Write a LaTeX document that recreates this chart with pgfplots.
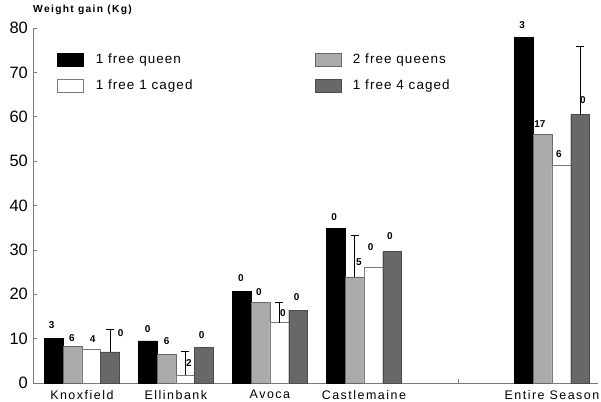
\documentclass[border=0pt]{standalone}
\usepackage{fontspec}
\setmainfont{Liberation Sans}
\newfontfamily\catfont[LetterSpace=12]{Liberation Sans}
\newfontfamily\legfont[LetterSpace=8]{Liberation Sans}
\newfontfamily\titfont[LetterSpace=13]{Liberation Sans}
\usepackage{pgfplots}
\pgfplotsset{compat=1.18}
\definecolor{hatch}{HTML}{ABABAB}
\definecolor{darkh}{HTML}{686868}
\definecolor{axgray}{HTML}{7A7A7A}
\begin{document}
\begin{tikzpicture}
\useasboundingbox (0bp,0bp) rectangle (601bp,-402bp);
\begin{axis}[
  at={(33bp,-383bp)}, anchor=south west,
  scale only axis, width=565bp, height=355bp,
  xmin=-0.52, xmax=5.49, ymin=0, ymax=80,
  clip=false,
  axis x line*=bottom, axis y line*=left,
  axis line style={-, draw=axgray, line width=0.8bp},
  tick align=inside, major tick length=4.5bp,
  tick style={draw=axgray, line width=0.7bp},
  ytick={0,10,...,80},
  xtick={0,1,2,3,4,5},
  xticklabels={Knoxfield,Ellinbank,Avoca,Castlemaine,,Entire Season},
  /pgf/number format/assume math mode=true,
  yticklabel style={font=\fontsize{16.5}{18}\selectfont, anchor=east, inner sep=0pt, xshift=-5bp},
  xticklabel style={font=\catfont\fontsize{12.5}{14}\selectfont, anchor=north, inner sep=0pt, yshift=-7bp},
  title={\titfont\bfseries Weight gain (Kg)},
  title style={at={(rel axis cs:0,1)}, anchor=base west, inner sep=0pt, yshift=10bp, font=\fontsize{10.3}{12}\selectfont},
  legend columns=2,
  legend cell align=left,
  legend style={draw=none, fill=none, at={(axis description cs:0.0375,0.936)}, anchor=north west,
    font=\legfont\fontsize{13.5}{16}\selectfont,
    nodes={inner sep=0pt, text height=10bp, text depth=3bp},
    row sep=13bp,
    /tikz/column 1/.style={column sep=12bp},
    /tikz/column 2/.style={column sep=122bp},
    /tikz/column 3/.style={column sep=12bp}},
  legend image code/.code={\draw[#1] (0bp,-6.5bp) rectangle (26bp,6.5bp);},
]
\addplot[ybar, bar width=0.2, bar shift=-0.3, fill=black, draw=black, line width=0.4bp]
  coordinates {(0,10.0) (1,9.5) (2,20.6) (3,34.8) (5,77.9)};
\addlegendentry{1 free queen}
\addplot[ybar, bar width=0.2, bar shift=-0.1, fill=hatch, draw=darkh, line width=0.4bp]
  coordinates {(0,8.2) (1,6.5) (2,18.2) (3,23.9) (5,56.1)};
\addlegendentry{2 free queens}
\addplot[ybar, bar width=0.2, bar shift=0.1, fill=white, draw=axgray, line width=0.4bp]
  coordinates {(0,7.6) (1,1.8) (2,13.6) (3,26.2) (5,49.1)};
\addlegendentry{1 free 1 caged}
\addplot[ybar, bar width=0.2, bar shift=0.3, fill=darkh, draw=black!70, line width=0.4bp]
  coordinates {(0,7.0) (1,8.0) (2,16.4) (3,29.6) (5,60.5)};
\addlegendentry{1 free 4 caged}
% error bars
\addplot[forget plot, draw=none, mark=none,
  error bars/.cd, y dir=plus, y explicit,
  error bar style={draw=black, line width=0.6bp},
  error mark options={rotate=90, mark size=4bp, draw=black, line width=0.6bp}]
  coordinates {(0.3,7.0) +- (0,5.2) (1.1,1.8) +- (0,5.3) (2.1,13.6) +- (0,4.6) (2.9,23.9) +- (0,9.4) (5.3,60.5) +- (0,15.4)};
% sample-size labels
\addplot[forget plot, draw=none, mark=none, nodes near coords, point meta=explicit symbolic,
  nodes near coords style={anchor=center, inner sep=0pt, text=black, font=\bfseries\fontsize{10}{12}\selectfont}]
  table[meta=lab] {
x y lab
-0.322 13.07 3
-0.106 10.14 6
0.114 9.92 4
0.412 11.27 0
0.699 12.17 0
0.901 9.46 6
1.138 4.51 2
1.273 10.82 0
1.691 23.6 0
1.883 20.6 0
2.138 15.84 0
2.284 19.3 0
2.684 37.3 0
2.947 27.3 5
3.071 30.7 0
3.277 33.2 0
4.684 80.7 3
4.872 58.3 17
5.074 51.6 6
5.330 63.8 0
};
\end{axis}
\end{tikzpicture}
\end{document}
